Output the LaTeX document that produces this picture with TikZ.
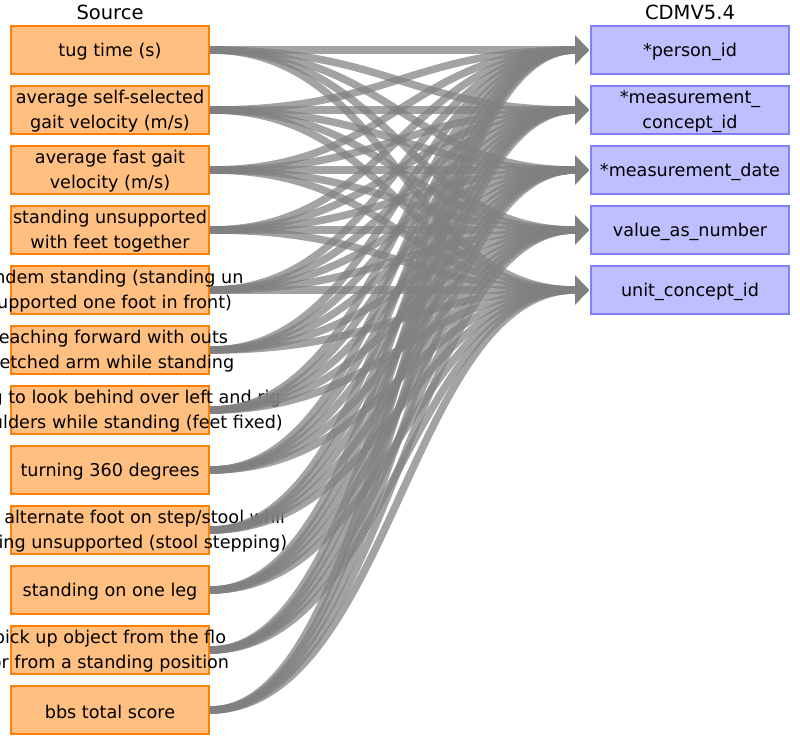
\documentclass[tikz,border=0pt]{standalone}
\usepackage{fontspec}
\setmainfont{DejaVu Sans}
\usetikzlibrary{arrows.meta}

\definecolor{srcfill}{RGB}{255,191,128}
\definecolor{srcline}{RGB}{255,128,0}
\definecolor{cdmfill}{RGB}{191,191,255}
\definecolor{cdmline}{RGB}{128,128,255}
\definecolor{edgegray}{RGB}{128,128,128}

\begin{document}
\begin{tikzpicture}[x=1pt,y=-1pt,
  srcbox/.style={draw=srcline, fill=srcfill, line width=2pt, minimum width=198pt, minimum height=48pt, inner sep=0pt},
  cdmbox/.style={draw=cdmline, fill=cdmfill, line width=2pt, minimum width=198pt, minimum height=48pt, inner sep=0pt},
  boxtext/.style={align=center, inner sep=0pt, yshift=-1.5pt, font=\fontsize{17.6}{25}\selectfont},
  head/.style={anchor=base, inner sep=0pt, font=\fontsize{19.5}{22}\selectfont},
  edge/.style={draw=edgegray, opacity=0.72, line width=7.5pt, -{Triangle[length=14pt,width=28pt]}, shorten >=1pt}]
\useasboundingbox (0,0) rectangle (800,745);

\node[head] (srchead) at (110,19) {Source};
\node[head] (cdmhead) at (690,19) {CDMV5.4};

% source fields
\node[srcbox] (s1) at (110,50) {};
\node[srcbox] (s2) at (110,110) {};
\node[srcbox] (s3) at (110,170) {};
\node[srcbox] (s4) at (110,230) {};
\node[srcbox] (s5) at (110,290) {};
\node[srcbox] (s6) at (110,350) {};
\node[srcbox] (s7) at (110,410) {};
\node[srcbox] (s8) at (110,470) {};
\node[srcbox] (s9) at (110,530) {};
\node[srcbox] (s10) at (110,590) {};
\node[srcbox] (s11) at (110,650) {};
\node[srcbox] (s12) at (110,710) {};

\node[boxtext] (s1t) at (s1) {tug time (s)};
\node[boxtext] (s2t) at (s2) {average self-selected\\gait velocity (m/s)};
\node[boxtext] (s3t) at (s3) {average fast gait\\velocity (m/s)};
\node[boxtext] (s4t) at (s4) {standing unsupported\\with feet together};
\node[boxtext] (s5t) at (s5) {tandem standing (standing un\\supported one foot in front)};
\node[boxtext] (s6t) at (s6) {reaching forward with outs\\tretched arm while standing};
\node[boxtext] (s7t) at (s7) {turning to look behind over left and rig\\ht shoulders while standing (feet fixed)};
\node[boxtext] (s8t) at (s8) {turning 360 degrees};
\node[boxtext] (s9t) at (s9) {placing alternate foot on step/stool whil\\e standing unsupported (stool stepping)};
\node[boxtext] (s10t) at (s10) {standing on one leg};
\node[boxtext] (s11t) at (s11) {pick up object from the flo\\or from a standing position};
\node[boxtext] (s12t) at (s12) {bbs total score};

% cdm fields
\node[cdmbox] (t1) at (690,50) {};
\node[cdmbox] (t2) at (690,110) {};
\node[cdmbox] (t3) at (690,170) {};
\node[cdmbox] (t4) at (690,230) {};
\node[cdmbox] (t5) at (690,290) {};

\node[boxtext] (t1t) at (t1) {*person\_id};
\node[boxtext] (t2t) at (t2) {*measurement\_\\concept\_id};
\node[boxtext] (t3t) at (t3) {*measurement\_date};
\node[boxtext] (t4t) at (t4) {value\_as\_number};
\node[boxtext] (t5t) at (t5) {unit\_concept\_id};

% every source field maps to every cdm field
\foreach \s in {1,...,12}
  \foreach \t in {1,...,5}
    \draw[edge] (s\s.east) .. controls +(180,0) and +(-180,0) .. (t\t.west);
\end{tikzpicture}
\end{document}
